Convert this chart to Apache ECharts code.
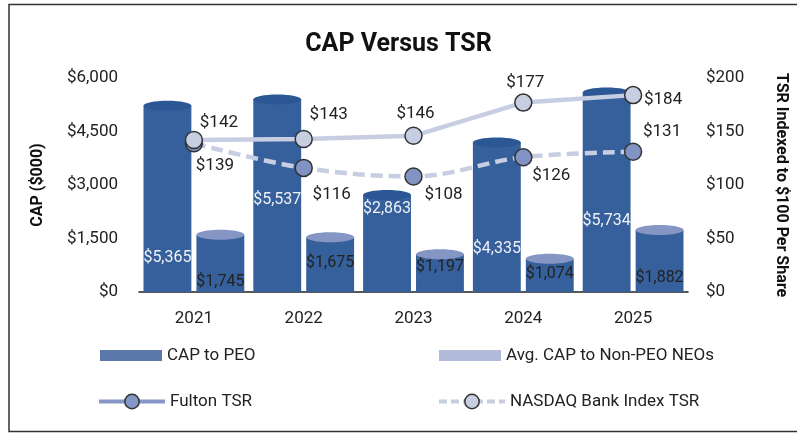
<!DOCTYPE html>
<html>
<head>
<meta charset="utf-8">
<script src="https://cdn.jsdelivr.net/npm/echarts@6/dist/echarts.min.js"></script>
<style>
  html, body { margin: 0; padding: 0; background: #fff; }
  #chart { width: 797px; height: 435px; }
</style>
</head>
<body>
<div id="chart"></div>
<script>
// values
const years = ['2021', '2022', '2023', '2024', '2025']
const capPeo = [5365, 5537, 2863, 4335, 5734]
const capNeo = [1745, 1675, 1197, 1074, 1882]
const fultonTsr = [142, 143, 146, 177, 184]
const nasdaqTsr = [139, 116, 108, 126, 131]

// label placement (pixels), not data
const peoLabelLift = [34, 92, 83, 43, 71]
const neoLabelLift = [10, 29, 25, 18, 14]
const fultonLabelOffset = [[25, -17], [25, -24], [2, -22], [2, -20], [30, 5]]
const nasdaqLabelOffset = [[21, 22], [28, 27], [30, 18], [28, 19], [29, -20]]

const FONT = 'Roboto'
const BODY = '#36609b'
const money = (v) => '$' + v.toLocaleString('en-US')

function cylinder(shift, topColor, labelColor, lifts) {
  return (params, api) => {
    const idx = api.value(0)
    const val = api.value(1)
    const band = api.size([1, 0])[0]
    const w = band * 0.436
    const top = api.coord([idx, val])
    const base = api.coord([idx, 0])
    const cx = top[0] + band * shift
    const ry = 5
    const cy = top[1] + ry
    return {
      type: 'group',
      children: [
        { type: 'rect', shape: { x: cx - w / 2, y: cy, width: w, height: base[1] - cy }, style: { fill: BODY } },
        { type: 'ellipse', shape: { cx: cx, cy: cy, rx: w / 2, ry: ry }, style: { fill: topColor } },
        {
          type: 'text',
          x: cx,
          y: base[1] - lifts[params.dataIndex],
          style: {
            text: money(val),
            fill: labelColor,
            fontSize: 16,
            fontFamily: FONT,
            align: 'center',
            verticalAlign: 'middle',
          },
        },
      ],
    }
  }
}

const chart = echarts.init(document.getElementById('chart'), null, { renderer: 'canvas' })

const legendText = { fontSize: 17, fontFamily: FONT, color: '#222' }

chart.setOption({
  backgroundColor: '#fff',
  animation: false,
  textStyle: { fontFamily: FONT },
  title: {
    text: 'CAP Versus TSR',
    left: 'center',
    top: 27,
    textStyle: { fontSize: 25, fontWeight: 'bold', color: '#111', fontFamily: FONT },
  },
  graphic: [
    {
      type: 'rect',
      shape: { x: 9, y: 4.5, width: 800, height: 427 },
      style: { fill: 'none', stroke: '#333', lineWidth: 1.5 },
      silent: true,
    },
  ],
  grid: { left: 139, right: 108, top: 78, bottom: 143 },
  legend: [
    {
      left: 95, top: 342, itemWidth: 62, itemHeight: 11, itemGap: 0, textStyle: legendText,
      data: [{ name: 'CAP to PEO', icon: 'rect', itemStyle: { color: '#5a79aa' } }],
    },
    {
      left: 434, top: 342, itemWidth: 62, itemHeight: 11, itemGap: 0, textStyle: legendText,
      data: [{ name: 'Avg. CAP to Non-PEO NEOs', icon: 'rect', itemStyle: { color: '#b1bad8' } }],
    },
    {
      left: 92, top: 388, itemWidth: 66, itemHeight: 18, itemGap: 0, textStyle: legendText,
      data: [{
        name: 'Fulton TSR',
        itemStyle: { color: '#8597c6', borderColor: '#333', borderWidth: 1.5 },
        lineStyle: { color: '#8597c6', width: 4, type: 'solid' },
      }],
    },
    {
      left: 432, top: 388, itemWidth: 66, itemHeight: 18, itemGap: 0, textStyle: legendText,
      data: [{
        name: 'NASDAQ Bank Index TSR',
        itemStyle: { color: '#c8cee2', borderColor: '#333', borderWidth: 1.5 },
        lineStyle: { color: '#c8cee2', width: 4, type: [8, 4] },
      }],
    },
  ],
  xAxis: {
    type: 'category',
    data: years,
    axisLine: { lineStyle: { color: '#222', width: 1.5 } },
    axisTick: { show: false },
    axisLabel: { fontSize: 17, color: '#222', margin: 18, fontFamily: FONT },
  },
  yAxis: [
    {
      type: 'value',
      min: 0,
      max: 6000,
      interval: 1500,
      name: 'CAP ($000)',
      nameLocation: 'middle',
      nameGap: 93,
      nameTextStyle: { fontSize: 16, fontWeight: 'bold', color: '#111', fontFamily: FONT },
      axisLine: { show: false },
      axisTick: { show: false },
      splitLine: { show: false },
      axisLabel: { fontSize: 17, color: '#222', margin: 21, formatter: money, fontFamily: FONT },
    },
    {
      type: 'value',
      min: 0,
      max: 200,
      interval: 50,
      position: 'right',
      name: 'TSR Indexed to $100 Per Share',
      nameLocation: 'middle',
      nameRotate: -90,
      nameGap: 85,
      nameTextStyle: { fontSize: 16, fontWeight: 'bold', color: '#111', fontFamily: FONT },
      axisLine: { show: false },
      axisTick: { show: false },
      splitLine: { show: false },
      axisLabel: { fontSize: 17, color: '#222', margin: 18, formatter: money, fontFamily: FONT },
    },
  ],
  series: [
    {
      name: 'CAP to PEO',
      type: 'custom',
      itemStyle: { color: '#5a79aa' },
      encode: { x: 0, y: 1 },
      data: capPeo.map((v, i) => [i, v]),
      renderItem: cylinder(-0.241, '#2b5894', '#eef1f8', peoLabelLift),
      z: 2,
    },
    {
      name: 'Avg. CAP to Non-PEO NEOs',
      type: 'custom',
      itemStyle: { color: '#b1bad8' },
      encode: { x: 0, y: 1 },
      data: capNeo.map((v, i) => [i, v]),
      renderItem: cylinder(0.241, '#8596c5', '#222', neoLabelLift),
      z: 2,
    },
    {
      name: 'NASDAQ Bank Index TSR',
      type: 'line',
      yAxisIndex: 1,
      smooth: 0.35,
      symbol: 'circle',
      symbolSize: 17,
      lineStyle: { color: '#c8cee2', width: 4.5, type: [12, 6] },
      itemStyle: { color: '#8193c3', borderColor: '#333', borderWidth: 1.5 },
      label: { show: true, position: 'inside', formatter: (p) => money(p.value), fontSize: 17, color: '#222', fontFamily: FONT },
      data: nasdaqTsr.map((v, i) => ({ value: v, label: { offset: nasdaqLabelOffset[i] } })),
      z: 3,
    },
    {
      name: 'Fulton TSR',
      type: 'line',
      yAxisIndex: 1,
      symbol: 'circle',
      symbolSize: 17,
      lineStyle: { color: '#c8cee2', width: 4.5 },
      itemStyle: { color: '#c8cee2', borderColor: '#333', borderWidth: 1.5 },
      label: { show: true, position: 'inside', formatter: (p) => money(p.value), fontSize: 17, color: '#222', fontFamily: FONT },
      data: fultonTsr.map((v, i) => ({ value: v, label: { offset: fultonLabelOffset[i] } })),
      z: 4,
    },
  ],
})

window.addEventListener('resize', () => chart.resize())
</script>
</body>
</html>
